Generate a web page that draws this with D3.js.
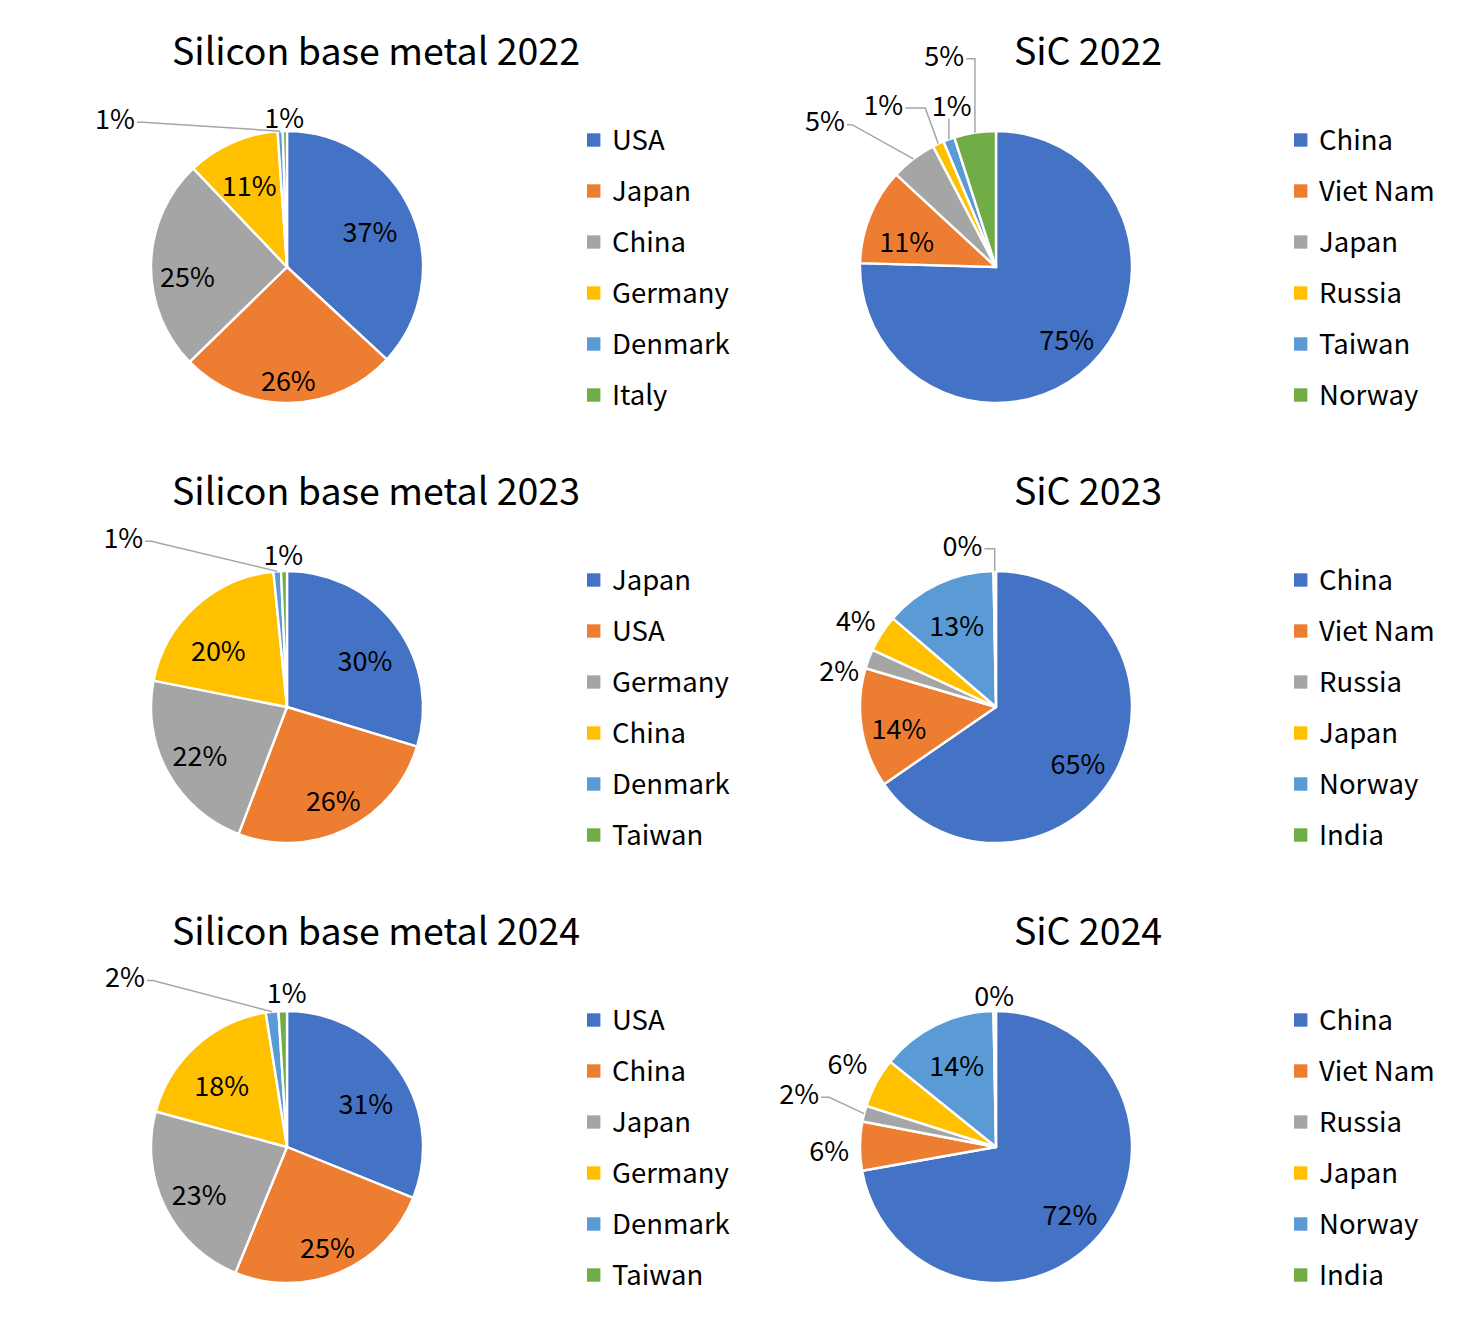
<!DOCTYPE html>
<html><head><meta charset="utf-8">
<script src="https://cdn.jsdelivr.net/npm/d3@7/dist/d3.min.js"></script>
<style>
body{margin:0;background:#fff}
svg{display:block}
text{font-family:"Noto Sans CJK KR","Noto Sans",sans-serif;fill:#000}
</style>
</head><body>
<svg id="chart" width="1465" height="1331"></svg>
<script>
// ---------- data ----------
const sliceColors = ["#4472C4","#ED7D31","#A5A5A5","#FFC000","#5B9BD5","#70AD47"];

const chartTitles = ["Silicon base metal 2022","SiC 2022","Silicon base metal 2023","SiC 2023","Silicon base metal 2024","SiC 2024"];

const si2022Countries  = ["USA","Japan","China","Germany","Denmark","Italy"];
const si2022Values     = [36.9,25.8,25.2,11.0,0.6,0.5];
const sic2022Countries = ["China","Viet Nam","Japan","Russia","Taiwan","Norway"];
const sic2022Values    = [75.45,11.45,5.45,1.35,1.35,4.95];
const si2023Countries  = ["Japan","USA","Germany","China","Denmark","Taiwan"];
const si2023Values     = [29.7,26.1,22.3,20.3,0.9,0.7];
const sic2023Countries = ["China","Viet Nam","Russia","Japan","Norway","India"];
const sic2023Values    = [65.4,14.2,2.3,4.4,13.4,0.3];
const si2024Countries  = ["USA","China","Japan","Germany","Denmark","Taiwan"];
const si2024Values     = [31.1,25.1,23.0,18.3,1.5,1.0];
const sic2024Countries = ["China","Viet Nam","Russia","Japan","Norway","India"];
const sic2024Values    = [72.2,5.8,1.9,5.9,13.9,0.3];

const chartCountries = [si2022Countries,sic2022Countries,si2023Countries,sic2023Countries,si2024Countries,sic2024Countries];
const chartValues    = [si2022Values,sic2022Values,si2023Values,sic2023Values,si2024Values,sic2024Values];

// ---------- label layout (offset of label centre from pie centre; optional leader) ----------
const labelLayout = [
  [[83,-34.5],[1.3,113.8],[-99.5,10.5],[-37.8,-81.2],[-172,-147.8,"h",6],[-2.8,-148.7]],
  [[70.7,73],[-89.3,-24.5],[-171,-145.3,"h",5],[-112.7,-162,"h",20],[-44.3,-160.3,"v"],[-51.8,-211.2,"h",999]],
  [[78,-45.3],[46.3,93.8],[-87,49.2],[-68.7,-56],[-163.7,-168.7,"h",6],[-3.7,-152]],
  [[82,57],[-97,22],[-156.8,-35.3],[-140.2,-85.3],[-39.3,-80.3],[-33.5,-161.2,"h",999]],
  [[78.8,-42.8],[40.5,101.3],[-87.8,48],[-65.3,-60.3],[-162,-169.5,"h",6],[-0.3,-153.7]],
  [[74,68],[-166.8,4.7],[-196.8,-52.8,"h",8],[-148.5,-82.8],[-39.3,-80.8],[-1.8,-151]]
];

// ---------- geometry ----------
const W = 1465, H = 1331;
const R = 136;
const colPieX = [287, 996];
const colTitleX = [376, 1088];
const colLegendX = [587, 1294];
const rowStep = 440;
const pieY0 = 267, titleY0 = 65, legendY0 = 140, legendStep = 51;
const titleSize = 37.5, labelSize = 27, legendSize = 27.5;

const svg = d3.select("#chart");
svg.append("rect").attr("x",0).attr("y",0).attr("width",W).attr("height",H).attr("fill","#fff");

const pie = d3.pie().sort(null).value(d => d);
const arc = d3.arc().innerRadius(0).outerRadius(R);
const color = d3.scaleOrdinal().domain(d3.range(6)).range(sliceColors);
const pct = d3.format(".0%");

chartTitles.forEach((title, i) => {
  const row = Math.floor(i / 2), col = i % 2;
  const cx = colPieX[col], cy = pieY0 + row * rowStep;
  const vals = chartValues[i], names = chartCountries[i];
  const total = d3.sum(vals);
  const g = svg.append("g").attr("class","panel");

  // title
  g.append("text").attr("x", colTitleX[col]).attr("y", titleY0 + row * rowStep)
    .attr("text-anchor","middle").attr("font-size", titleSize).text(title);

  // pie
  const pg = g.append("g").attr("transform", `translate(${cx},${cy})`);
  const arcs = pie(vals);
  pg.selectAll("path.slice").data(arcs).join("path").attr("class","slice")
    .attr("d", arc).attr("fill", (d, j) => color(j))
    .attr("stroke", "#fff").attr("stroke-width", 2.4).attr("stroke-linejoin","round");

  // labels
  arcs.forEach((a, j) => {
    const L = labelLayout[i][j];
    const lx = L[0], ly = L[1];
    const t = pg.append("text").attr("x", lx).attr("y", ly).attr("dy","0.36em")
      .attr("text-anchor","middle").attr("font-size", labelSize)
      .text(pct(a.value / total));
    if (L[2]) {
      const mid = (a.startAngle + a.endAngle) / 2;
      const ax = R * Math.sin(mid), ay = -R * Math.cos(mid);
      const w = t.node().getComputedTextLength();
      let pts;
      if (L[2] === "h") {
        const sx = lx + w / 2 + 2, sy = ly + 3;
        const ex = Math.min(sx + L[3], ax);
        pts = [[sx, sy], [ex, sy], [ax, ay]];
      } else {
        pts = [[ax, ly + labelSize * 0.45], [ax, ay]];
      }
      pg.append("path").attr("d", d3.line()(pts)).attr("fill","none")
        .attr("stroke","#A6A6A6").attr("stroke-width",1.5);
    }
  });

  // legend
  const lg = g.append("g").attr("transform", `translate(${colLegendX[col]},${legendY0 + row * rowStep})`);
  names.forEach((n, j) => {
    const y = j * legendStep;
    lg.append("rect").attr("x", 0).attr("y", y - 6.7).attr("width", 13.4).attr("height", 13.4).attr("fill", color(j));
    lg.append("text").attr("x", 25).attr("y", y).attr("dy","0.36em").attr("font-size", legendSize).text(n);
  });
});
</script>
</body></html>
